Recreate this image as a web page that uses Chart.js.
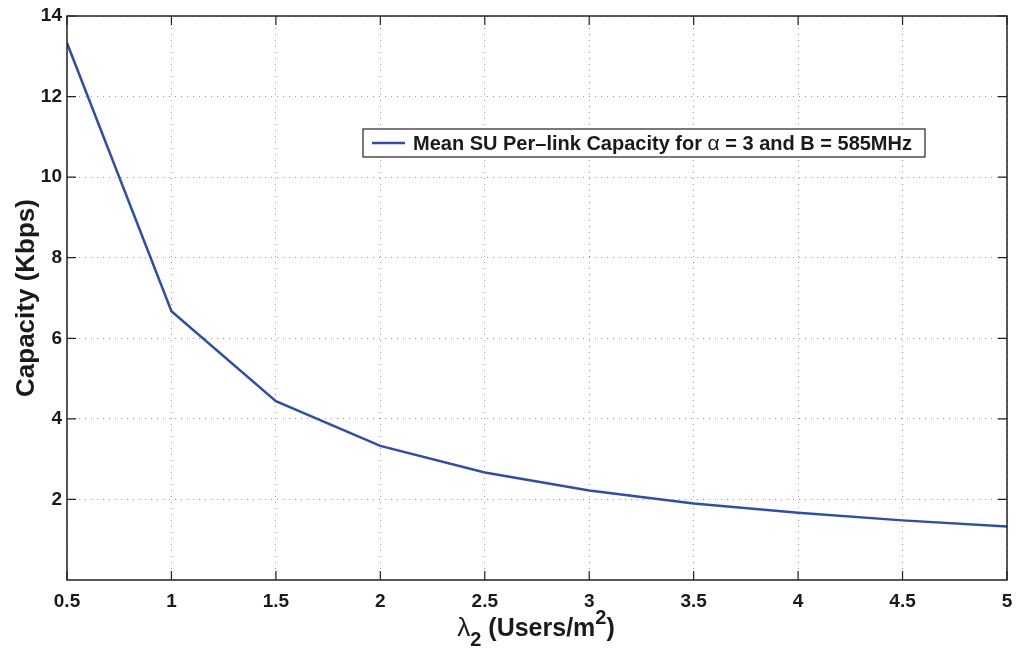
<!DOCTYPE html>
<html>
<head>
<meta charset="utf-8">
<script src="https://cdn.jsdelivr.net/npm/chart.js@4/dist/chart.umd.min.js"></script>
<style>
  html, body { margin: 0; padding: 0; background: #fff; }
  #wrap { width: 1018px; height: 652px; }
</style>
</head>
<body>
<div id="wrap"><canvas id="capChart" width="1018" height="652"></canvas></div>
<script>
// Secondary-user density (users/m^2) and mean per-link capacity (Kbps)
const lambdaVals = [0.5, 1, 1.5, 2, 2.5, 3, 3.5, 4, 4.5, 5];
const capacityVals = [13.33, 6.67, 4.44, 3.33, 2.67, 2.22, 1.9, 1.67, 1.48, 1.33];
const xTicks = [0.5, 1, 1.5, 2, 2.5, 3, 3.5, 4, 4.5, 5];
const yTicks = [2, 4, 6, 8, 10, 12, 14];

const FONT = '"Liberation Sans", Arial, Helvetica, sans-serif';
const TEXT = '#1a1a1a';
const LINE_COLOR = '#2f4fa3';

// MATLAB-like frame: black box and inward tick marks on all four sides
const framePlugin = {
    id: 'frame',
    afterDraw(chart) {
        const { ctx, chartArea: a, scales } = chart;
        ctx.save();
        ctx.strokeStyle = '#222';
        ctx.lineWidth = 1.5;
        ctx.strokeRect(a.left, a.top, a.right - a.left, a.bottom - a.top);
        ctx.lineWidth = 1.2;
        const len = 9;
        ctx.beginPath();
        xTicks.forEach(v => {
            const x = scales.x.getPixelForValue(v);
            ctx.moveTo(x, a.bottom); ctx.lineTo(x, a.bottom - len);
            ctx.moveTo(x, a.top); ctx.lineTo(x, a.top + len);
        });
        yTicks.forEach(v => {
            const y = scales.y.getPixelForValue(v);
            ctx.moveTo(a.left, y); ctx.lineTo(a.left + len, y);
            ctx.moveTo(a.right, y); ctx.lineTo(a.right - len, y);
        });
        ctx.stroke();

        // x axis title with subscript and superscript
        ctx.fillStyle = TEXT;
        ctx.textBaseline = 'alphabetic';
        const base = 636;
        const parts = [
            { t: 'λ', f: '26px ' + FONT, dy: 0 },
            { t: '2', f: 'bold 20px ' + FONT, dy: 10 },
            { t: ' (Users/m', f: 'bold 25px ' + FONT, dy: 0 },
            { t: '2', f: 'bold 20px ' + FONT, dy: -12 },
            { t: ')', f: 'bold 25px ' + FONT, dy: 0 }
        ];
        let total = 0;
        parts.forEach(p => { ctx.font = p.f; p.w = ctx.measureText(p.t).width; total += p.w; });
        let x = 536 - total / 2;
        parts.forEach(p => { ctx.font = p.f; ctx.fillText(p.t, x, base + p.dy); x += p.w; });

        // legend box
        const lx = 363, ly = 129, lw = 562, lh = 28;
        ctx.fillStyle = '#fff';
        ctx.fillRect(lx, ly, lw, lh);
        ctx.strokeStyle = '#222';
        ctx.lineWidth = 1.2;
        ctx.strokeRect(lx, ly, lw, lh);
        ctx.strokeStyle = LINE_COLOR;
        ctx.lineWidth = 2.5;
        ctx.beginPath();
        ctx.moveTo(372, ly + lh / 2); ctx.lineTo(405, ly + lh / 2);
        ctx.stroke();
        ctx.fillStyle = TEXT;
        ctx.textBaseline = 'middle';
        const legParts = [
            { t: 'Mean SU Per\u2013link Capacity for ', f: 'bold 20px ' + FONT },
            { t: 'α', f: '21px ' + FONT },
            { t: ' = 3 and B = 585MHz', f: 'bold 20px ' + FONT }
        ];
        let tx = 413;
        legParts.forEach(p => {
            ctx.font = p.f;
            ctx.fillText(p.t, tx, ly + lh / 2 + 1);
            tx += ctx.measureText(p.t).width;
        });
        ctx.restore();
    }
};

new Chart(document.getElementById('capChart'), {
    type: 'line',
    data: {
        datasets: [{
            label: 'Mean SU Per-link Capacity',
            data: lambdaVals.map((v, i) => ({ x: v, y: capacityVals[i] })),
            borderColor: LINE_COLOR,
            borderWidth: 2.5,
            pointRadius: 0,
            tension: 0,
            fill: false
        }]
    },
    options: {
        responsive: false,
        animation: false,
        layout: { padding: { left: 0, right: 11, top: 16, bottom: 0 } },
        plugins: {
            legend: { display: false },
            tooltip: { enabled: false }
        },
        scales: {
            x: {
                type: 'linear',
                min: 0.5,
                max: 5,
                afterBuildTicks(scale) { scale.ticks = xTicks.map(v => ({ value: v })); },
                afterFit(scale) {
                    scale.height = 72;
                    scale.paddingLeft = 0;
                    scale.paddingRight = 0;
                },
                grid: {
                    color: '#9a9a9a',
                    lineWidth: 1,
                    drawTicks: false
                },
                border: { display: false, dash: [1, 5] },
                ticks: {
                    color: TEXT,
                    padding: 10,
                    maxRotation: 0,
                    callback: v => String(v),
                    font: { family: FONT, size: 19, weight: 'bold' }
                }
            },
            y: {
                min: 0,
                max: 14,
                afterBuildTicks(scale) { scale.ticks = yTicks.map(v => ({ value: v })); },
                afterFit(scale) {
                    scale.width = 67;
                    scale.paddingTop = 0;
                    scale.paddingBottom = 0;
                },
                grid: {
                    color: '#9a9a9a',
                    lineWidth: 1,
                    drawTicks: false
                },
                border: { display: false, dash: [1, 5] },
                ticks: {
                    color: TEXT,
                    padding: 5,
                    font: { family: FONT, size: 19, weight: 'bold' }
                },
                title: {
                    display: true,
                    text: 'Capacity (Kbps)',
                    color: TEXT,
                    padding: { top: 11, bottom: 0 },
                    font: { family: FONT, size: 26, weight: 'bold' }
                }
            }
        }
    },
    plugins: [framePlugin]
});
</script>
</body>
</html>
